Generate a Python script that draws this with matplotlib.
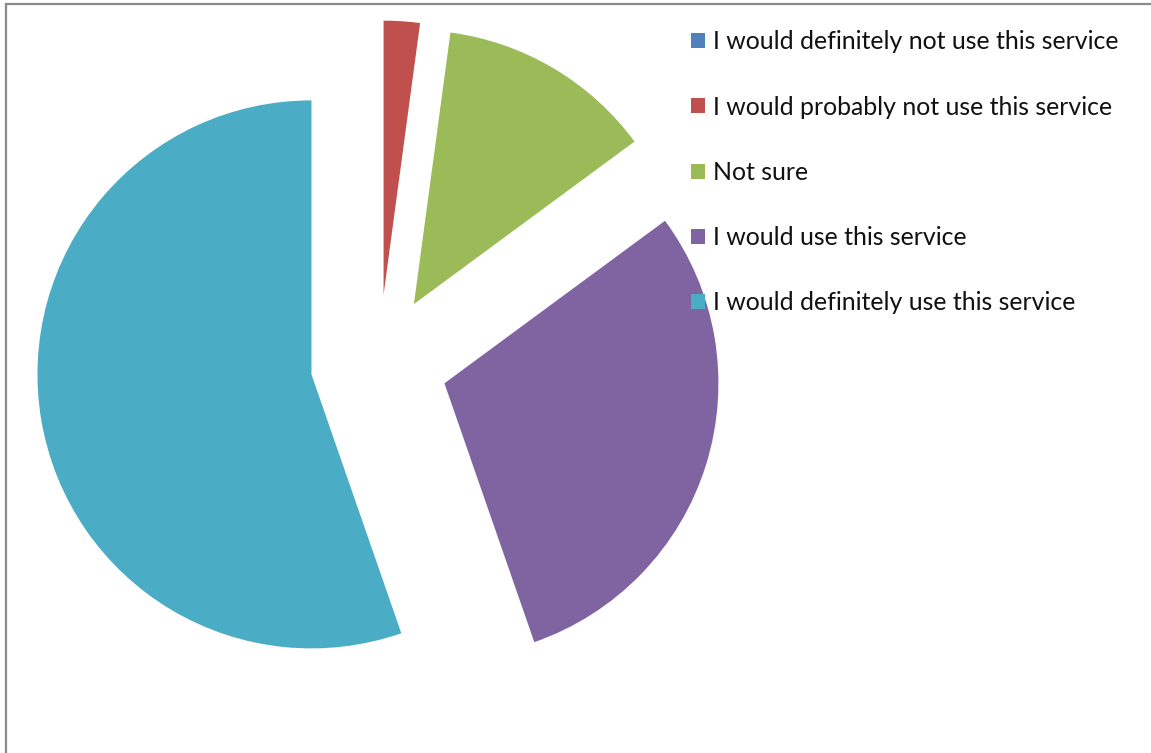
import matplotlib
matplotlib.use("Agg")
import matplotlib.pyplot as plt
from matplotlib.patches import Patch
from matplotlib.lines import Line2D

plt.rcParams["font.family"] = ["Lato", "DejaVu Sans"]

# survey responses (counts)
labels = [
    "I would definitely not use this service",
    "I would probably not use this service",
    "Not sure",
    "I would use this service",
    "I would definitely use this service",
]
counts = [0, 1, 6, 14, 26]
colors = ["#4F81BD", "#C0504D", "#9BBB59", "#8064A2", "#4BACC6"]
explode = [0.25, 0.25, 0.25, 0.25, 0.25]

W, H = 1151, 753
fig = plt.figure(figsize=(W / 100, H / 100), dpi=100)

# axes spans the figure; data units = pie radius (274 px), centre at (379, 363) px
R = 274.0
cx, cy = 379.0, 363.0
ax = fig.add_axes([0, 0, 1, 1])
ax.pie(counts, colors=colors, explode=explode, startangle=90,
       counterclock=False, radius=1.0,
       wedgeprops={"linewidth": 0, "antialiased": True})
ax.set_xlim(-cx / R, (W - cx) / R)
ax.set_ylim(-(H - cy) / R, cy / R)
ax.set_aspect("equal")
ax.axis("off")

handles = [Patch(facecolor=c, edgecolor="none") for c in colors]
fig.legend(handles, labels, loc="upper left",
           bbox_to_anchor=(679 / W, 1 - 18 / H), frameon=False,
           fontsize=17.9, handlelength=0.55, handleheight=0.55,
           handletextpad=0.3, labelspacing=1.70, borderpad=0,
           labelcolor="#111111")

# thin grey frame along top and left edges
fig.add_artist(Line2D([6 / W, 1], [1 - 4 / H, 1 - 4 / H], transform=fig.transFigure,
                      color="#8a8a8a", linewidth=1.6))
fig.add_artist(Line2D([6 / W, 6 / W], [0, 1 - 4 / H], transform=fig.transFigure,
                      color="#8a8a8a", linewidth=1.6))

fig.savefig("out.png", dpi=100, facecolor="white")
